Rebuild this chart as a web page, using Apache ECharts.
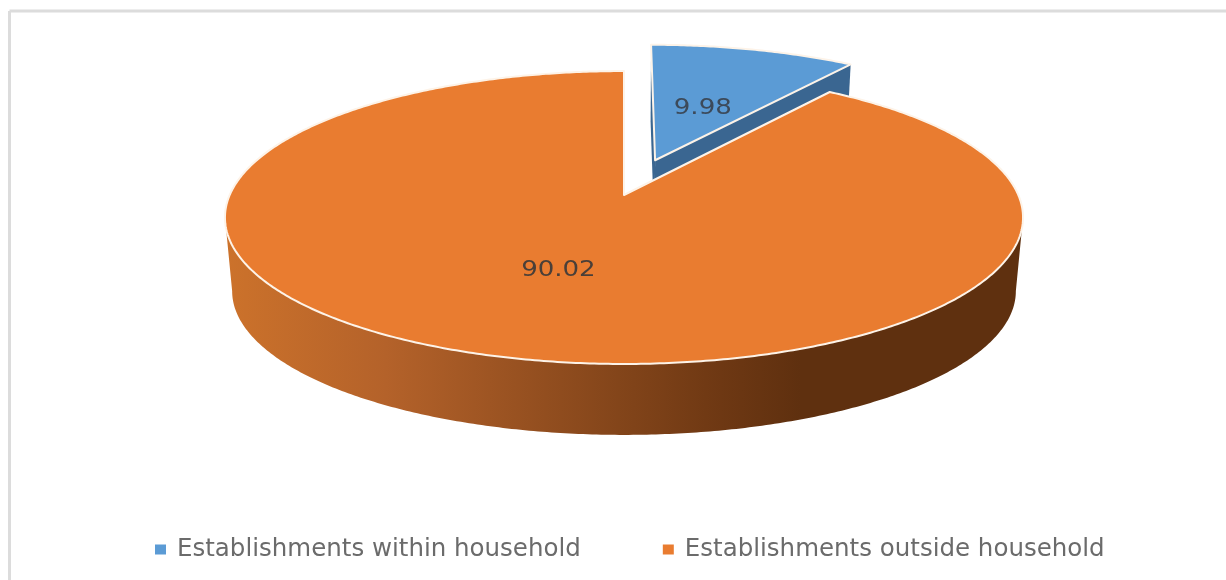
<!DOCTYPE html>
<html>
<head>
<meta charset="utf-8">
<style>html,body{margin:0;padding:0;background:#fff}#chart{width:1226px;height:580px}</style>
<script src="https://cdn.jsdelivr.net/npm/echarts@6/dist/echarts.min.js"></script>
</head>
<body>
<div id="chart"></div>
<script>
// Share of establishments by location
const categories = ['Establishments within household', 'Establishments outside household'];
const values = [9.98, 90.02];
const topColors = ['#5b9bd5', '#e97c30'];
const labelRadius = [0.45, 0.5];

// Tilted-disc projection: plane coordinates (u right, v towards the viewer), radius 1
const centre = { x: 624, y: 195 };
const spanX = 394.3, spanY = 143, perspective = 0.1536;
const depth = 74, bottomScale = 0.982;
const explode = 0.2655;   // pull-out of the smaller slice
const total = values.reduce((a, b) => a + b, 0);

function project(u, v, bottom) {
  const d = 1 - perspective * v;
  const s = bottom ? bottomScale : 1;
  return [
    centre.x + s * spanX * u / d,
    centre.y + (bottom ? depth : 0) + s * spanY * v / d
  ];
}

// Slice angles, clockwise from twelve o'clock
function sliceOf(i) {
  const before = values.slice(0, i).reduce((a, b) => a + b, 0);
  const start = before / total * Math.PI * 2;
  const end = (before + values[i]) / total * Math.PI * 2;
  const mid = (start + end) / 2;
  const off = i === 0 ? explode : 0;
  return { start, end, mid, ou: off * Math.sin(mid), ov: -off * Math.cos(mid) };
}

function rim(sl, bottom, from, to) {
  const pts = [];
  const n = Math.max(2, Math.ceil(Math.abs(to - from) / 0.01));
  for (let k = 0; k <= n; k++) {
    const t = from + (to - from) * k / n;
    pts.push(project(sl.ou + Math.sin(t), sl.ov - Math.cos(t), bottom));
  }
  return pts;
}

const wallFill = new echarts.graphic.LinearGradient(226, 0, 1024, 0, [
  { offset: 0, color: '#cc722b' },
  { offset: 0.2, color: '#b4622a' },
  { offset: 0.42, color: '#8f4c1e' },
  { offset: 0.62, color: '#6e3813' },
  { offset: 0.72, color: '#5f300f' },
  { offset: 1, color: '#5f300f' }
], true);

// Angles where the disc outline is widest: the visible wall runs between them
const wallRight = Math.acos(-perspective);
const wallLeft = Math.PI * 2 - wallRight;

function renderSlice(params, api) {
  const i = params.seriesIndex;
  const sl = sliceOf(i);
  const apexTop = project(sl.ou, sl.ov, false);
  const apexBottom = project(sl.ou, sl.ov, true);
  const children = [];

  if (i === 0) {
    // Cut faces along both straight edges of the pulled-out slice
    [sl.start, sl.end].forEach(angle => {
      const rimTop = rim(sl, false, angle, angle)[0];
      const rimBottom = rim(sl, true, angle, angle)[0];
      children.push({
        type: 'polygon',
        shape: { points: [apexTop, rimTop, rimBottom, apexBottom] },
        style: { fill: '#3a6691' }
      });
    });
  } else {
    // Outer wall of the disc
    children.push({
      type: 'polygon',
      shape: { points: rim(sl, false, wallRight, wallLeft).concat(rim(sl, true, wallLeft, wallRight)) },
      style: { fill: wallFill }
    });
  }

  // Top face
  children.push({
    type: 'polygon',
    shape: { points: [apexTop].concat(rim(sl, false, sl.start, sl.end)) },
    style: { fill: topColors[i], stroke: '#fdf3e8', lineWidth: 2, lineJoin: 'round' }
  });

  // Value label on the top face
  const r = labelRadius[i];
  const at = project(sl.ou + r * Math.sin(sl.mid), sl.ov - r * Math.cos(sl.mid), false);
  children.push({
    type: 'text',
    x: at[0], y: at[1] + 2, scaleX: 1.24,
    style: {
      text: String(api.value(0)),
      fontFamily: 'DejaVu Sans', fontSize: 21,
      fill: i === 0 ? '#3c4a5a' : '#4a3f38',
      align: 'center', verticalAlign: 'middle'
    }
  });
  return { type: 'group', children };
}

const chart = echarts.init(document.getElementById('chart'));
chart.setOption({
  backgroundColor: '#fff',
  animation: false,
  legend: {
    data: categories,
    left: 150, top: 532,
    icon: 'rect', itemWidth: 11, itemHeight: 10, itemGap: 82,
    textStyle: { fontFamily: 'DejaVu Sans', fontSize: 24.5, color: '#6b6b6b', padding: [0, 0, 0, 6] }
  },
  graphic: [
    { type: 'line', silent: true, shape: { x1: 9.5, y1: 11, x2: 1226, y2: 11 }, style: { stroke: '#dcdcdc', lineWidth: 3 } },
    { type: 'line', silent: true, shape: { x1: 9.5, y1: 11, x2: 9.5, y2: 580 }, style: { stroke: '#dcdcdc', lineWidth: 3 } }
  ],
  series: categories.map((name, i) => ({
    type: 'custom',
    name,
    coordinateSystem: 'none',
    data: [[values[i]]],
    itemStyle: { color: topColors[i] },
    renderItem: renderSlice
  }))
});
</script>
</body>
</html>
